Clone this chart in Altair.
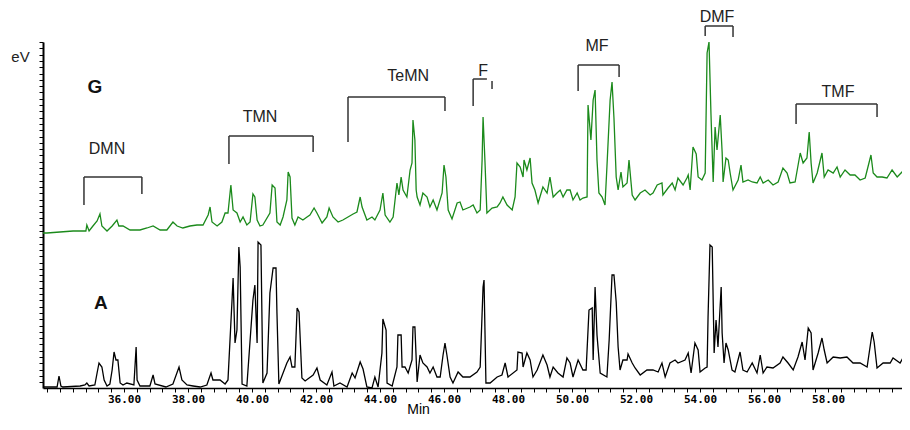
import altair as alt
import pandas as pd

# --- chromatogram readings: (retention time in min, signal) ---
trace_a = [
    (33.47, 1), (33.59, 1), (33.91, 1), (33.97, 12), (34.03, 2), (34.09, 1), (34.63, 2), (34.78, 3),
    (34.84, 5), (34.91, 2), (35.09, 3), (35.16, 15), (35.22, 25), (35.31, 21), (35.38, 8), (35.47, 2),
    (35.56, 4), (35.63, 18), (35.69, 36), (35.75, 28), (35.81, 28), (35.88, 5), (35.97, 3), (36.09, 5),
    (36.31, 3), (36.38, 41), (36.41, 8), (36.5, 2), (36.81, 2), (36.91, 13), (36.97, 4), (37.31, 1),
    (37.53, 4), (37.72, 21), (37.81, 8), (37.97, 3), (38.16, 2), (38.38, 1), (38.59, 3), (38.72, 15),
    (38.78, 8), (39.0, 8), (39.16, 4), (39.25, 8), (39.38, 90), (39.41, 110), (39.47, 45), (39.53, 58),
    (39.59, 141), (39.63, 121), (39.69, 4), (39.84, 2), (40.03, 88), (40.09, 103), (40.16, 45), (40.19, 146),
    (40.28, 143), (40.34, 5), (40.47, 15), (40.56, 95), (40.66, 120), (40.75, 120), (40.78, 75), (40.84, 4),
    (41.09, 25), (41.19, 31), (41.25, 21), (41.34, 21), (41.41, 80), (41.47, 76), (41.56, 10), (41.66, 7),
    (41.91, 13), (42.03, 20), (42.13, 8), (42.34, 3), (42.5, 16), (42.56, 2), (42.75, 5), (42.97, 1),
    (43.13, 15), (43.22, 10), (43.38, 26), (43.47, 19), (43.59, 1), (43.75, 0), (43.84, 11), (43.94, 1),
    (44.06, 35), (44.09, 69), (44.19, 58), (44.22, 5), (44.38, 2), (44.53, 21), (44.56, 53), (44.66, 53),
    (44.69, 21), (44.78, 21), (44.88, 15), (45.0, 28), (45.03, 61), (45.09, 61), (45.16, 6), (45.25, 33),
    (45.34, 25), (45.47, 21), (45.56, 15), (45.66, 21), (45.78, 11), (45.88, 11), (45.97, 33), (46.03, 45),
    (46.09, 33), (46.19, 11), (46.28, 5), (46.44, 16), (46.59, 11), (46.81, 11), (47.03, 16), (47.13, 21),
    (47.22, 101), (47.25, 108), (47.31, 5), (47.44, 5), (47.66, 11), (47.81, 13), (47.91, 25), (48.0, 11),
    (48.28, 18), (48.31, 36), (48.44, 35), (48.47, 21), (48.59, 35), (48.69, 28), (48.78, 11), (48.91, 18),
    (49.09, 33), (49.22, 23), (49.31, 11), (49.41, 21), (49.56, 15), (49.72, 11), (49.84, 30), (49.94, 25),
    (50.03, 11), (50.19, 28), (50.34, 18), (50.44, 18), (50.53, 78), (50.63, 80), (50.66, 28), (50.72, 101),
    (50.78, 53), (50.88, 15), (51.09, 11), (51.16, 48), (51.25, 113), (51.31, 113), (51.38, 86), (51.44, 41),
    (51.5, 18), (51.59, 28), (51.72, 28), (51.75, 34), (51.88, 25), (51.97, 20), (52.13, 13), (52.34, 18),
    (52.53, 18), (52.69, 16), (52.81, 25), (52.91, 11), (53.06, 25), (53.22, 28), (53.31, 25), (53.53, 28),
    (53.63, 35), (53.72, 15), (53.84, 45), (53.94, 38), (54.0, 16), (54.16, 20), (54.22, 21), (54.25, 71),
    (54.31, 143), (54.38, 141), (54.44, 35), (54.5, 68), (54.56, 41), (54.66, 101), (54.69, 55), (54.75, 25),
    (54.81, 45), (54.88, 38), (55.0, 18), (55.09, 16), (55.25, 36), (55.34, 18), (55.47, 16), (55.63, 25),
    (55.78, 15), (55.88, 33), (55.97, 15), (56.09, 21), (56.28, 20), (56.5, 25), (56.59, 31), (56.75, 25),
    (56.91, 18), (57.06, 31), (57.19, 46), (57.28, 28), (57.38, 60), (57.47, 55), (57.53, 18), (57.69, 35),
    (57.81, 50), (57.88, 38), (57.97, 25), (58.16, 31), (58.38, 30), (58.59, 31), (58.78, 25), (59.0, 25),
    (59.22, 21), (59.38, 56), (59.44, 46), (59.53, 20), (59.72, 25), (59.94, 25), (60.03, 30), (60.25, 25),
    (60.34, 30), (60.56, 21),
]

trace_g = [
    (33.47, 155), (33.59, 155), (34.0, 156), (34.41, 157), (34.72, 157), (34.81, 157), (34.84, 163), (34.91, 157),
    (35.03, 162), (35.16, 167), (35.25, 174), (35.31, 162), (35.47, 157), (35.63, 162), (35.78, 168), (35.84, 162),
    (35.97, 162), (36.19, 158), (36.5, 158), (36.72, 160), (36.91, 162), (37.13, 158), (37.34, 158), (37.53, 166),
    (37.66, 162), (37.84, 160), (38.06, 162), (38.28, 163), (38.47, 163), (38.63, 173), (38.69, 181), (38.75, 166),
    (38.91, 162), (39.06, 166), (39.16, 175), (39.25, 175), (39.34, 203), (39.41, 178), (39.53, 175), (39.63, 166),
    (39.72, 171), (39.84, 163), (39.94, 166), (40.03, 194), (40.09, 191), (40.16, 168), (40.25, 162), (40.34, 163),
    (40.56, 175), (40.63, 203), (40.72, 200), (40.78, 166), (40.88, 163), (40.97, 171), (41.09, 188), (41.13, 216),
    (41.19, 211), (41.25, 170), (41.34, 163), (41.44, 171), (41.59, 168), (41.72, 171), (41.81, 173), (41.94, 180),
    (42.03, 175), (42.19, 165), (42.34, 171), (42.41, 180), (42.53, 171), (42.69, 166), (42.84, 168), (43.0, 171),
    (43.16, 174), (43.28, 176), (43.38, 191), (43.44, 181), (43.59, 168), (43.75, 171), (43.84, 168), (44.0, 178),
    (44.09, 195), (44.16, 173), (44.31, 166), (44.41, 171), (44.53, 205), (44.59, 193), (44.66, 211), (44.72, 198),
    (44.84, 191), (44.94, 218), (45.0, 225), (45.03, 268), (45.09, 248), (45.13, 198), (45.16, 191), (45.25, 183),
    (45.34, 195), (45.47, 191), (45.56, 181), (45.66, 188), (45.78, 178), (45.94, 195), (46.0, 223), (46.06, 211),
    (46.13, 178), (46.25, 169), (46.41, 185), (46.5, 186), (46.59, 178), (46.81, 181), (46.91, 183), (47.03, 175),
    (47.13, 178), (47.19, 228), (47.22, 271), (47.28, 226), (47.34, 175), (47.5, 180), (47.66, 181), (47.75, 185),
    (47.84, 191), (47.97, 183), (48.13, 178), (48.22, 191), (48.28, 225), (48.38, 221), (48.47, 211), (48.5, 228),
    (48.59, 218), (48.69, 230), (48.75, 205), (48.84, 198), (48.94, 185), (49.09, 201), (49.22, 195), (49.31, 211),
    (49.41, 191), (49.53, 195), (49.63, 198), (49.72, 191), (49.84, 198), (49.94, 198), (50.03, 188), (50.16, 195),
    (50.25, 188), (50.34, 190), (50.47, 191), (50.5, 283), (50.59, 248), (50.66, 288), (50.72, 298), (50.78, 228),
    (50.84, 195), (50.94, 191), (51.03, 183), (51.09, 221), (51.19, 288), (51.25, 306), (51.31, 270), (51.38, 211),
    (51.44, 198), (51.53, 216), (51.59, 201), (51.72, 205), (51.78, 228), (51.88, 193), (51.97, 188), (52.13, 195),
    (52.28, 198), (52.44, 193), (52.53, 195), (52.66, 203), (52.81, 205), (52.84, 193), (53.0, 200), (53.13, 205),
    (53.22, 198), (53.31, 210), (53.47, 203), (53.59, 210), (53.63, 213), (53.69, 198), (53.78, 241), (53.88, 234),
    (53.94, 211), (54.06, 208), (54.16, 215), (54.22, 335), (54.28, 346), (54.34, 275), (54.41, 206), (54.47, 261),
    (54.53, 238), (54.63, 273), (54.69, 236), (54.72, 206), (54.81, 230), (54.88, 228), (54.94, 215), (55.03, 198),
    (55.19, 208), (55.28, 223), (55.34, 206), (55.5, 208), (55.63, 206), (55.78, 205), (55.88, 211), (55.97, 205),
    (56.13, 208), (56.28, 203), (56.44, 206), (56.59, 220), (56.72, 215), (56.81, 205), (56.97, 206), (57.13, 235),
    (57.22, 225), (57.34, 230), (57.41, 256), (57.47, 225), (57.53, 205), (57.66, 215), (57.81, 235), (57.88, 211),
    (58.0, 218), (58.16, 215), (58.28, 221), (58.38, 211), (58.53, 218), (58.69, 213), (58.84, 213), (59.0, 208),
    (59.16, 210), (59.34, 233), (59.41, 215), (59.53, 211), (59.69, 211), (59.84, 210), (60.0, 218), (60.16, 211),
    (60.31, 216), (60.47, 208), (60.56, 210),
]

# --- compound-group brackets ---
group_names = ["DMN", "TMN", "TeMN", "F", "MF", "DMF", "TMF"]
name_time = [35.47, 40.25, 44.88, 47.22, 50.78, 54.53, 58.31]
name_level = [239, 271, 312, 317, 342, 371, 296]
bar_start = [34.75, 39.28, 43.0, 46.91, 50.19, 54.16, 57.0]
bar_end = [36.56, 41.91, 46.03, 47.34, 51.47, 55.03, 59.53]
bar_level = [211, 252, 291, 309, 323, 362, 284]
left_leg_bottom = [183, 224, 246, 282, 297, 352, 264]
right_leg_time = [36.56, 41.91, 46.03, 47.5, 51.47, 55.03, 59.53]
right_leg_top = [211, 252, 291, 307, 323, 362, 284]
right_leg_bottom = [194, 236, 277, 299, 311, 351, 271]

trace_names = ["G", "A"]
trace_name_time = [35.09, 35.28]
trace_name_level = [301, 85]

x_ticks = [round(33.6 + 0.4 * i, 1) for i in range(67)]
y_ticks = [round(346 - 6.3 * i, 1) for i in range(55)]

rows = [{"t": t, "v": v, "s": "A"} for t, v in trace_a] + [{"t": t, "v": v, "s": "G"} for t, v in trace_g]
traces = pd.DataFrame(rows)

bars = pd.DataFrame({"x1": bar_start, "x2": bar_end, "y": bar_level})
legs = pd.DataFrame({
    "x": bar_start + right_leg_time,
    "y1": bar_level + right_leg_top,
    "y2": left_leg_bottom + right_leg_bottom,
})
names = pd.DataFrame({"t": name_time, "v": name_level, "label": group_names})
tnames = pd.DataFrame({"t": trace_name_time, "v": trace_name_level, "label": trace_names})

xs = alt.Scale(domain=[33.47, 60.31], nice=False, zero=False)
ys = alt.Scale(domain=[0, 346], nice=False, zero=False)

x_axis = alt.Axis(
    values=x_ticks,
    labelExpr=(
        "datum.value > 35.9 && datum.value < 58.1 && abs(datum.value - round(datum.value)) < 0.01 "
        "&& round(datum.value) % 2 == 0 ? format(datum.value, '.2f') : ''"
    ),
    grid=False, tickSize=4, tickColor="black", tickWidth=1,
    domainColor="black", domainWidth=1.5,
    labelFont="DejaVu Sans Mono", labelFontSize=11, labelFontWeight="bold", labelColor="black",
    labelPadding=1, labelOverlap=False, labelFlush=False, labelBound=False,
    title="Min", titleFont="Liberation Sans", titleFontSize=14, titleFontWeight="normal",
    titleColor="black", titleX=375, titleY=14, titleAlign="center", titleBaseline="top",
)
y_axis = alt.Axis(
    values=y_ticks, labels=False, grid=False, tickSize=4, tickColor="black", tickWidth=1,
    domainColor="black", domainWidth=2,
    title="eV", titleAngle=0, titleX=-23, titleY=14, titleAlign="center", titleBaseline="middle",
    titleFont="Liberation Sans", titleFontSize=15, titleFontWeight="normal", titleColor="#222",
)

lines = alt.Chart(traces).mark_line(strokeWidth=1.3, interpolate="linear", clip=True).encode(
    x=alt.X("t:Q", scale=xs, axis=x_axis),
    y=alt.Y("v:Q", scale=ys, axis=y_axis),
    color=alt.Color("s:N", scale=alt.Scale(domain=["A", "G"], range=["#000000", "#1b8a1b"]), legend=None),
    detail="s:N",
)

bar_layer = alt.Chart(bars).mark_rule(color="#333333", strokeWidth=1.5).encode(
    x=alt.X("x1:Q", scale=xs, axis=x_axis), x2="x2:Q", y=alt.Y("y:Q", scale=ys, axis=y_axis)
)
leg_layer = alt.Chart(legs).mark_rule(color="#333333", strokeWidth=1.5).encode(
    x=alt.X("x:Q", scale=xs, axis=x_axis), y=alt.Y("y1:Q", scale=ys, axis=y_axis), y2="y2:Q"
)
name_layer = alt.Chart(names).mark_text(
    font="Liberation Sans", fontSize=16, color="#222222", align="center", baseline="middle"
).encode(x=alt.X("t:Q", scale=xs, axis=x_axis), y=alt.Y("v:Q", scale=ys, axis=y_axis), text="label:N")
tname_layer = alt.Chart(tnames).mark_text(
    font="Liberation Sans", fontSize=19, fontWeight="bold", color="#111111", align="center", baseline="middle"
).encode(x=alt.X("t:Q", scale=xs, axis=x_axis), y=alt.Y("v:Q", scale=ys, axis=y_axis), text="label:N")

chart = alt.layer(lines, bar_layer, leg_layer, name_layer, tname_layer).properties(
    width=859, height=346,
    autosize=alt.AutoSizeParams(type="none"),
    padding={"left": 35, "top": 34, "right": 0, "bottom": 30},
    background="white",
).configure_view(stroke="transparent")

chart.save("out.html", embed_options={"renderer": "svg", "actions": False})
